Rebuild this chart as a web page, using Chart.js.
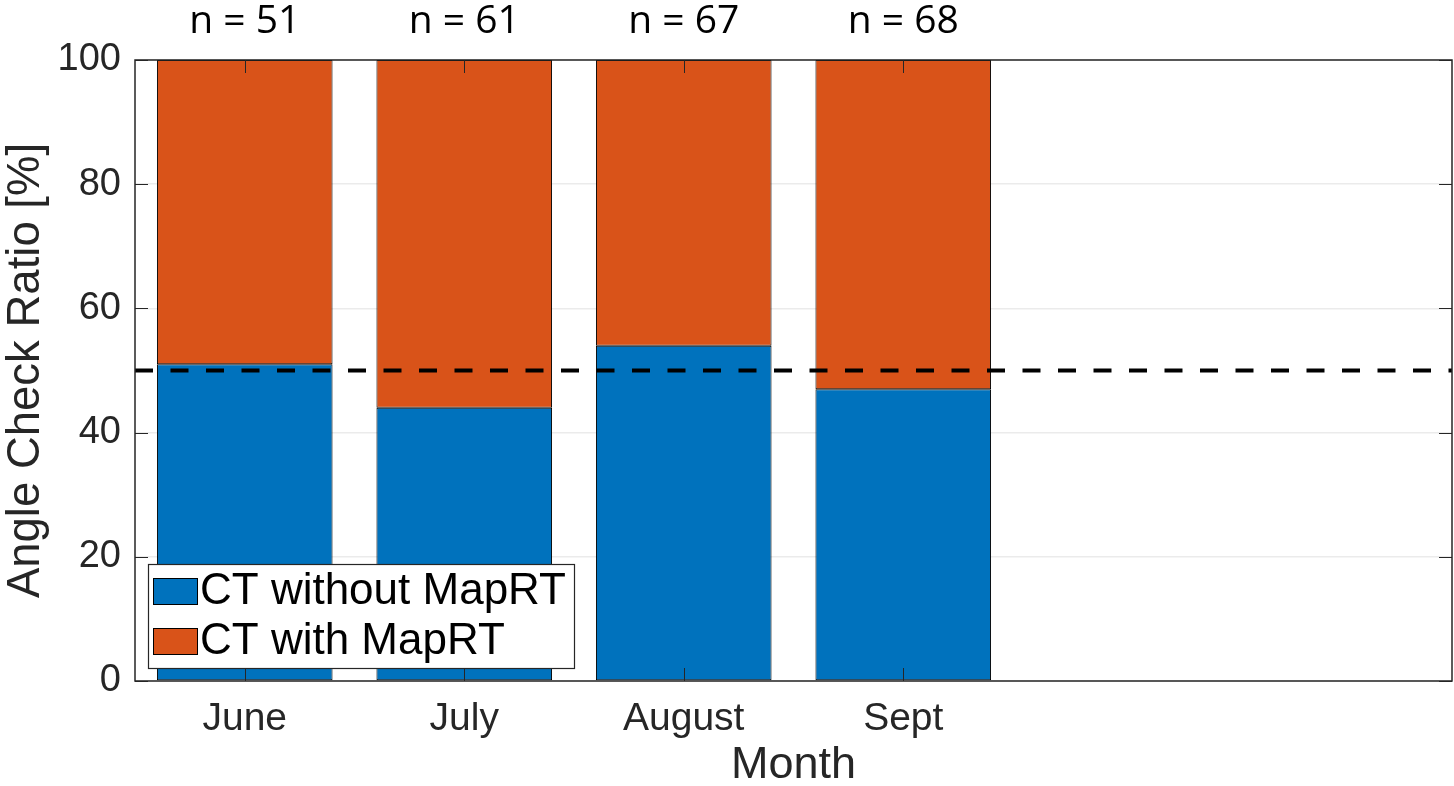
<!DOCTYPE html>
<html>
<head>
<meta charset="utf-8">
<script src="https://cdn.jsdelivr.net/npm/chart.js@4.4.1/dist/chart.umd.min.js"></script>
<style>
  html, body { margin: 0; padding: 0; background: #fff; }
  canvas { display: block; }
</style>
</head>
<body>
<canvas id="angleChart" width="1454" height="786"></canvas>
<script>
// data
const months = ['June', 'July', 'August', 'Sept', '', ''];
const withoutMapRT = [51, 44, 54, 47, null, null];
const withMapRT = [49, 56, 46, 53, null, null];
const counts = [51, 61, 67, 68];
const refLine = 50;

const BLUE = '#0072BD';
const ORANGE = '#D95319';
const AXIS = '#262626';
const FONT = '"Liberation Sans", Arial, Helvetica, sans-serif';

// MATLAB-like axes decoration: dashed line, inward ticks, box, n labels, legend
const axesDecor = {
  id: 'axesDecor',
  afterDatasetsDraw(chart) {
    const { ctx, chartArea: a, scales: { x, y } } = chart;
    ctx.save();

    // 50 % reference line
    const yRef = y.getPixelForValue(refLine);
    ctx.strokeStyle = '#000';
    ctx.lineWidth = 4;
    ctx.setLineDash([18, 17.5]);
    ctx.beginPath();
    ctx.moveTo(a.left, yRef);
    ctx.lineTo(a.right, yRef);
    ctx.stroke();
    ctx.setLineDash([]);

    // inward tick marks
    const tl = 13;
    ctx.strokeStyle = AXIS;
    ctx.lineWidth = 1;
    ctx.beginPath();
    y.ticks.forEach(t => {
      const py = Math.round(y.getPixelForValue(t.value)) + 0.5;
      ctx.moveTo(a.left, py); ctx.lineTo(a.left + tl, py);
      ctx.moveTo(a.right, py); ctx.lineTo(a.right - tl, py);
    });
    months.forEach((m, i) => {
      if (!m) return;
      const px = Math.round(x.getPixelForValue(i)) + 0.5;
      ctx.moveTo(px, a.bottom); ctx.lineTo(px, a.bottom - tl);
      ctx.moveTo(px, a.top); ctx.lineTo(px, a.top + tl);
    });
    ctx.stroke();

    // axes box
    ctx.lineWidth = 1.5;
    ctx.strokeRect(a.left, a.top, a.right - a.left, a.bottom - a.top);

    // sample sizes above the bars
    ctx.fillStyle = '#000';
    ctx.font = '39px "Open Sans", "Noto Sans", sans-serif';
    ctx.textAlign = 'center';
    ctx.textBaseline = 'middle';
    counts.forEach((n, i) => {
      ctx.fillText('n = ' + n, x.getPixelForValue(i), 22);
    });

    // legend inside the axes, lower left
    const lx = a.left + 13, ly = a.bottom - 117, lw = 426, lh = 104;
    ctx.fillStyle = '#fff';
    ctx.fillRect(lx, ly, lw, lh);
    ctx.strokeStyle = AXIS;
    ctx.lineWidth = 1.2;
    ctx.strokeRect(lx + 0.5, ly + 0.5, lw, lh);
    ctx.font = '44px ' + FONT;
    ctx.textAlign = 'left';
    ctx.textBaseline = 'middle';
    chart.data.datasets.forEach((ds, i) => {
      const rowY = ly + 27 + i * 50;
      ctx.fillStyle = ds.backgroundColor;
      ctx.fillRect(lx + 5, rowY - 13, 45, 26);
      ctx.strokeStyle = '#000';
      ctx.lineWidth = 1;
      ctx.strokeRect(lx + 5.5, rowY - 12.5, 44, 26);
      ctx.fillStyle = '#000';
      ctx.fillText(ds.label, lx + 52, rowY + 1);
    });

    ctx.restore();
  }
};

const ctx = document.getElementById('angleChart').getContext('2d');

const angleChart = new Chart(ctx, {
  type: 'bar',
  data: {
    labels: months,
    datasets: [
      {
        label: 'CT without MapRT',
        data: withoutMapRT,
        backgroundColor: BLUE,
        borderColor: '#000',
        borderWidth: 1,
        borderSkipped: false
      },
      {
        label: 'CT with MapRT',
        data: withMapRT,
        backgroundColor: ORANGE,
        borderColor: '#000',
        borderWidth: 1,
        borderSkipped: false
      }
    ]
  },
  options: {
    responsive: false,
    animation: false,
    devicePixelRatio: 1,
    layout: { padding: { top: 60, right: 2, left: 0, bottom: 0 } },
    datasets: { bar: { categoryPercentage: 1, barPercentage: 0.8 } },
    plugins: {
      legend: { display: false },
      tooltip: { enabled: false }
    },
    scales: {
      x: {
        stacked: true,
        grid: { display: false },
        border: { display: false },
        ticks: {
          color: AXIS,
          font: { family: FONT, size: 39 },
          padding: 7,
          maxRotation: 0,
          autoSkip: false
        },
        title: {
          display: true,
          text: 'Month',
          color: AXIS,
          font: { family: FONT, size: 45, lineHeight: 0.9 },
          padding: { top: 0, bottom: 0 }
        },
        afterFit(scale) { scale.height = 105; }
      },
      y: {
        stacked: true,
        min: 0,
        max: 100,
        grid: { color: '#ebebeb', lineWidth: 1.5, drawTicks: false },
        border: { display: false },
        ticks: {
          stepSize: 20,
          color: AXIS,
          font: { family: FONT, size: 38 },
          padding: 14
        },
        title: {
          display: true,
          text: 'Angle Check Ratio [%]',
          color: AXIS,
          font: { family: FONT, size: 45.5, lineHeight: 0.9 },
          padding: { top: 6, bottom: 0 }
        },
        afterFit(scale) { scale.width = 135; }
      }
    }
  },
  plugins: [axesDecor]
});
</script>
</body>
</html>
